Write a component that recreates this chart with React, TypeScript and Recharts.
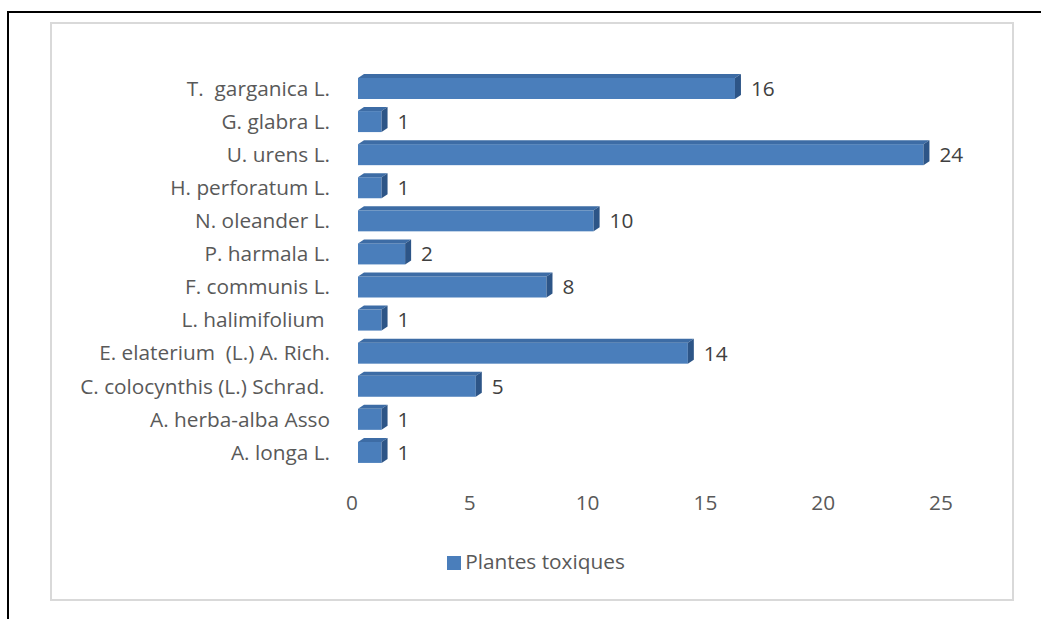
import React from 'react';
import { BarChart, Bar, XAxis, YAxis, Legend, LabelList } from 'recharts';

// categories listed from top of the chart to the bottom
const plantNames = [
  'T.  garganica L.',
  'G. glabra L.',
  'U. urens L.',
  'H. perforatum L.',
  'N. oleander L.',
  'P. harmala L.',
  'F. communis L.',
  'L. halimifolium ',
  'E. elaterium  (L.) A. Rich.',
  'C. colocynthis (L.) Schrad. ',
  'A. herba-alba Asso',
  'A. longa L.',
];
const toxicCounts = [16, 1, 24, 1, 10, 2, 8, 1, 14, 5, 1, 1];
const xTicks = [0, 5, 10, 15, 20, 25];
const seriesName = 'Plantes toxiques';

const data = plantNames.map((name, i) => ({ name, value: toxicCounts[i] }));

const FONT = '"Open Sans", sans-serif';
const TEXT = '#595959';
const FS = 20.8;

const FRONT = '#4A7EBB';
const TOP = '#3D6CA5';
const SIDE = '#2D5587';

// 3D-looking bar: front face, top face and right face
const Bar3D = (props: any) => {
  const { x, y, width, height } = props;
  if (width == null || width <= 0) return null;
  const shift = 6;
  const dx = 6;
  const dy = 4;
  const x0 = x + shift;
  const x1 = x0 + width;
  return (
    <g>
      <rect x={x0} y={y} width={width} height={height} fill={FRONT} />
      <polygon
        points={`${x0},${y} ${x0 + dx},${y - dy} ${x1 + dx},${y - dy} ${x1},${y}`}
        fill={TOP}
      />
      <polygon
        points={`${x1},${y} ${x1 + dx},${y - dy} ${x1 + dx},${y + height - dy} ${x1},${y + height}`}
        fill={SIDE}
      />
    </g>
  );
};

const CategoryTick = (props: any) => {
  const { x, y, payload } = props;
  return (
    <text
      x={x}
      y={y}
      dy="0.35em"
      textAnchor="end"
      fill={TEXT}
      fontSize={FS}
      fontFamily={FONT}
      style={{ whiteSpace: 'pre' }}
    >
      {payload.value}
    </text>
  );
};

const App: React.FC = () => {
  return (
    <div style={{ position: 'fixed', top: 0, left: 0, width: 1041, height: 619, background: '#fff', overflow: 'hidden' }}>
      {/* outer black frame */}
      <div style={{ position: 'absolute', left: 7, top: 11, width: 1100, height: 700, border: '2px solid #000' }} />
      {/* chart area frame */}
      <div style={{ position: 'absolute', left: 50, top: 22, width: 960, height: 575, border: '2px solid #d9d9d9' }} />

      <div style={{ position: 'absolute', left: 0, top: 0 }}>
        <BarChart
          width={1041}
          height={619}
          data={data}
          layout="vertical"
          margin={{ top: 72, right: 100, left: 0, bottom: 110 }}
          barSize={21}
        >
          <XAxis
            type="number"
            domain={[0, 25]}
            ticks={xTicks}
            axisLine={false}
            tickLine={false}
            tickSize={0}
            tickMargin={26}
            height={40}
            tick={{ fill: TEXT, fontSize: FS, fontFamily: FONT }}
          />
          <YAxis
            type="category"
            dataKey="name"
            width={352}
            axisLine={false}
            tickLine={false}
            tickSize={0}
            tickMargin={22}
            interval={0}
            tick={<CategoryTick />}
          />
          <Legend
            layout="horizontal"
            verticalAlign="middle"
            align="center"
            iconType="square"
            iconSize={14}
            wrapperStyle={{ top: 547, left: 60, width: 962, fontFamily: FONT, fontSize: FS }}
            formatter={(v: string) => <span style={{ color: TEXT }}>{v}</span>}
          />
          <Bar dataKey="value" name={seriesName} fill={FRONT} shape={<Bar3D />} isAnimationActive={false}>
            <LabelList
              dataKey="value"
              position="right"
              offset={22}
              fill="#404040"
              fontSize={FS}
              fontFamily={FONT}
            />
          </Bar>
        </BarChart>
      </div>
    </div>
  );
};

export default App;
